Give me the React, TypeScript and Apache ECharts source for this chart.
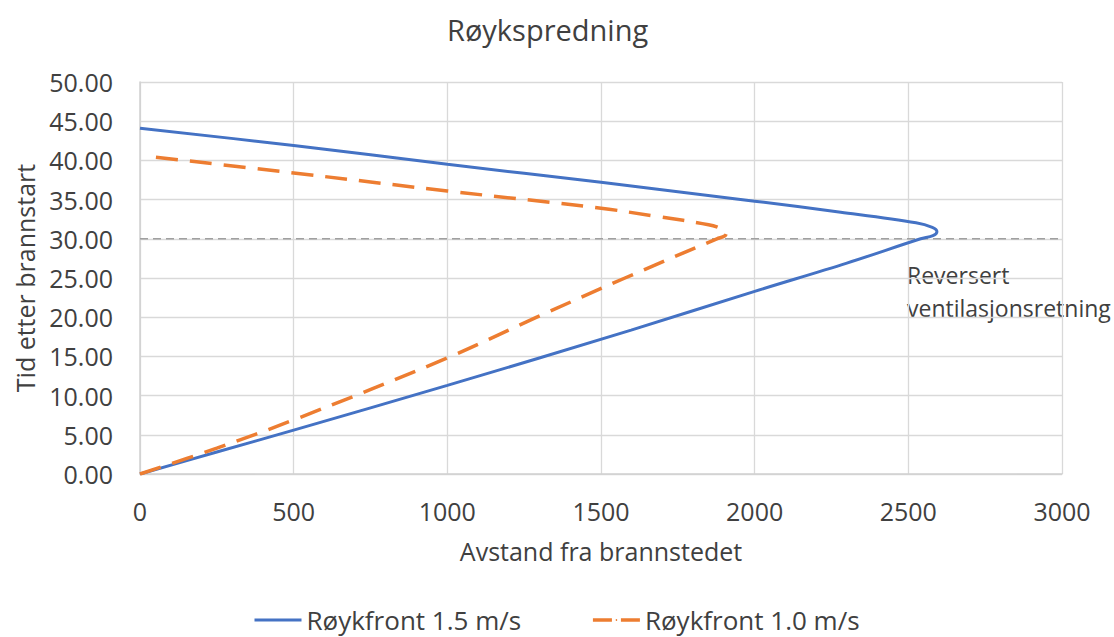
import React, { useEffect, useRef } from "react";
import * as echarts from "echarts";

const titleText = "Røykspredning";
const xAxisName = "Avstand fra brannstedet";
const yAxisName = "Tid etter brannstart";
const annotation = "Reversert\nventilasjonsretning";

const seriesNames = ["Røykfront 1.5 m/s", "Røykfront 1.0 m/s"];

// Røykfront 1.5 m/s: distance (m) and time
const blueDist = [0, 250, 500, 1000, 1598, 2000, 2300, 2540, 2580, 2593, 2578, 2525, 2280, 2000, 1500, 1000, 500, 0];
const blueTime = [0, 2.8, 5.6, 11.3, 18.35, 23.3, 26.9, 30.0, 30.4, 30.9, 31.45, 32.05, 33.4, 34.8, 37.2, 39.5, 41.9, 44.1];

// Røykfront 1.0 m/s
const orangeDist = [0, 250, 500, 1000, 1291, 1578, 1877, 1902, 1908, 1893, 1850, 1682, 1500, 1000, 500, 30];
const orangeTime = [0, 3.3, 6.9, 14.8, 20.0, 25.0, 30.0, 30.35, 30.75, 31.25, 31.8, 32.85, 33.9, 36.1, 38.4, 40.5];

// reversal reference line
const refDist = [0, 3000];
const refTime = [30, 30];

const zip = (xs: number[], ys: number[]) => xs.map((x, i) => [x, ys[i]]);

export default function App() {
  const ref = useRef<HTMLDivElement>(null);
  useEffect(() => {
    if (!ref.current) return;
    const chart = echarts.init(ref.current, undefined, { renderer: "svg" });
    const font = "Open Sans";
    const textColor = "#404040";
    chart.setOption({
      animation: false,
      backgroundColor: "#ffffff",
      textStyle: { fontFamily: font },
      title: {
        text: titleText,
        left: 442,
        top: 10,
        textStyle: { fontFamily: font, fontSize: 29, fontWeight: "normal", color: textColor },
      },
      grid: { left: 140, right: 52, top: 82, bottom: 163, containLabel: false },
      legend: {
        data: [
          { name: seriesNames[0], lineStyle: { width: 3, color: "#4472C4", type: "solid" } },
          { name: seriesNames[1], lineStyle: { width: 3.5, color: "#ED7D31", type: [19, 9] } },
        ],
        left: 248,
        top: 600,
        itemWidth: 47,
        itemHeight: 2,
        itemGap: 70,
        textStyle: { fontFamily: font, fontSize: 26, lineHeight: 30, color: textColor },
      },
      xAxis: {
        type: "value",
        min: 0,
        max: 3000,
        interval: 500,
        name: xAxisName,
        nameLocation: "middle",
        nameGap: 64,
        nameTextStyle: { fontFamily: font, fontSize: 25, color: textColor },
        axisLine: { show: true, lineStyle: { color: "#d0d0d0", width: 1.5 } },
        axisTick: { show: false },
        axisLabel: {
          margin: 24,
          fontFamily: font,
          fontSize: 25,
          color: textColor,
          formatter: (v: number) => String(v),
        },
        splitLine: { show: true, lineStyle: { color: "#d9d9d9", width: 1.3 } },
      },
      yAxis: {
        type: "value",
        min: 0,
        max: 50,
        interval: 5,
        name: yAxisName,
        nameLocation: "middle",
        nameGap: 103,
        nameRotate: 90,
        nameTextStyle: { fontFamily: font, fontSize: 25, color: textColor },
        axisLine: { show: true, lineStyle: { color: "#d0d0d0", width: 1.5 } },
        axisTick: { show: false },
        axisLabel: {
          margin: 27,
          fontFamily: font,
          fontSize: 25,
          color: textColor,
          formatter: (v: number) => v.toFixed(2),
        },
        splitLine: { show: true, lineStyle: { color: "#d9d9d9", width: 1.3 } },
      },
      series: [
        {
          name: seriesNames[0],
          type: "line",
          data: zip(blueDist, blueTime),
          symbol: "none",
          smooth: 0.35,
          color: "#4472C4",
          lineStyle: { color: "#4472C4", width: 3 },
          z: 3,
        },
        {
          name: seriesNames[1],
          type: "line",
          data: zip(orangeDist, orangeTime),
          symbol: "none",
          smooth: 0.35,
          color: "#ED7D31",
          lineStyle: { color: "#ED7D31", width: 3.5, type: [22, 12] },
          z: 3,
        },
        {
          name: "ref",
          type: "line",
          data: zip(refDist, refTime),
          symbol: "none",
          lineStyle: { color: "#a0a0a0", width: 1.5, type: [8, 5] },
          z: 2,
        },
      ],
      graphic: [
        {
          type: "text",
          left: 907,
          top: 258,
          style: {
            text: annotation,
            fontFamily: font,
            fontSize: 23,
            lineHeight: 33,
            fill: textColor,
          },
        },
      ],
    });
    return () => chart.dispose();
  }, []);
  return (
    <div
      ref={ref}
      style={{ position: "fixed", left: 0, top: 0, width: 1114, height: 637, background: "#fff" }}
    />
  );
}
